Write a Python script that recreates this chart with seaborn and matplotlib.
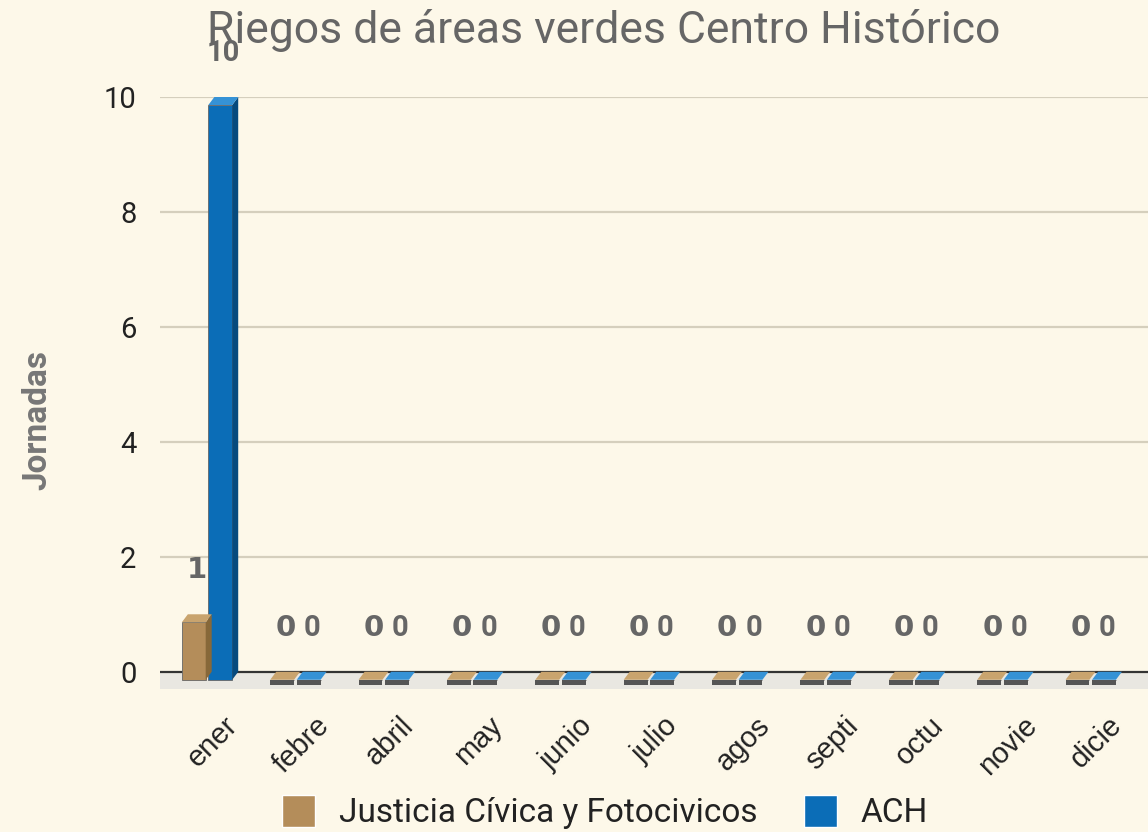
import numpy as np
import pandas as pd
import matplotlib
matplotlib.use("Agg")
import matplotlib.pyplot as plt
import matplotlib.transforms as mtransforms
from matplotlib.patches import Polygon, Rectangle
import seaborn as sns

# ---- data ----
months = ["ener", "febre", "abril", "may", "junio", "julio", "agos", "septi", "octu", "novie", "dicie"]
series_names = ["Justicia Cívica y Fotocivicos", "ACH"]
justicia = [1, 0, 0, 0, 0, 0, 0, 0, 0, 0, 0]
ach = [10, 0, 0, 0, 0, 0, 0, 0, 0, 0, 0]
yticks = [0, 2, 4, 6, 8, 10]
title = "Riegos de áreas verdes Centro Histórico"
ylabel = "Jornadas"

df = pd.DataFrame({
    "mes": months * 2,
    "serie": [series_names[0]] * len(months) + [series_names[1]] * len(months),
    "jornadas": justicia + ach,
})

BG = "#fdf8e9"
TAN = "#b48d5a"
BLUE = "#0b6db7"
side_col = {TAN: "#876839", BLUE: "#064a7e"}
top_col = {TAN: "#c9a46e", BLUE: "#3592d6"}

sns.set_theme(style="white")
plt.rcParams["font.family"] = ["Roboto", "DejaVu Sans"]

fig = plt.figure(figsize=(11.48, 8.32), dpi=100)
fig.patch.set_facecolor(BG)
W, H = 1148, 832
ax_left, ax_right = 160, 1148
ax_bot, ax_top = 689, 97
ax = fig.add_axes([ax_left / W, (H - ax_bot) / H, (ax_right - ax_left) / W, (ax_bot - ax_top) / H])
ax.set_facecolor(BG)

sns.barplot(data=df, x="mes", y="jornadas", hue="serie", palette=[TAN, BLUE],
            width=0.6, gap=0.1, ax=ax, legend=True, zorder=3, saturation=1)
bars = [p for p in ax.patches if isinstance(p, Rectangle) and p.get_width() > 0]

handles, labels = ax.get_legend_handles_labels()
ax.get_legend().remove()

ax.set_ylim(-0.3, 10)
ax.set_xlim(-0.6, 10.58)
ax.set_yticks(yticks)
ax.set_yticklabels([str(t) for t in yticks], fontsize=21, color="#222222")
ax.tick_params(axis="y", length=0, pad=17)
ax.tick_params(axis="x", length=0, pad=16)
for lab in ax.get_xticklabels():
    lab.set_rotation(45)
    lab.set_ha("center")
    lab.set_fontsize(21)
    lab.set_family(["Liberation Sans", "DejaVu Sans"])
    lab.set_color("#222222")
for s in ax.spines.values():
    s.set_visible(False)
ax.set_xlabel("")
ax.set_ylabel(ylabel, fontsize=24, fontweight="bold", color="#777777")
ax.yaxis.set_label_coords(-0.108, 0.455)

# grid lines
for t in yticks[1:]:
    ax.axhline(t, color="#d5cfbd", lw=1.6, zorder=0.5)
ax.axhspan(-0.3, 0, color="#e9e7e1", zorder=0.6, lw=0)
ax.axhline(0, color="#333333", lw=1.6, zorder=1)

# 3D-ish bars
dx, dy = 6, 8  # front face offset (pixels)
front_tr = ax.transData + mtransforms.Affine2D().translate(-dx, -dy)
ident = mtransforms.IdentityTransform()
for p in bars:
    fc = matplotlib.colors.to_hex(p.get_facecolor())
    col = TAN if fc.lower() == TAN else BLUE
    x0, w, h = p.get_x(), p.get_width(), p.get_height()
    p.set_transform(front_tr)
    p.set_edgecolor("#666666")
    p.set_linewidth(0.6)
    p.set_clip_on(False)
    (bx0, by0), = ax.transData.transform([(x0, 0)])
    (bx1, by1), = ax.transData.transform([(x0 + w, h)])
    fx0, fx1 = bx0 - dx, bx1 - dx
    fy0, fy1 = by0 - dy, by1 - dy
    ax.add_patch(Polygon([(fx0, fy1), (fx1, fy1), (bx1, by1), (bx0, by1)], closed=True,
                         facecolor=top_col[col], edgecolor="none", transform=ident,
                         zorder=3.2, clip_on=False))
    if h > 0:
        ax.add_patch(Polygon([(fx1, fy0), (fx1, fy1), (bx1, by1), (bx1, by0)], closed=True,
                             facecolor=side_col[col], edgecolor="none", transform=ident,
                             zorder=3.1, clip_on=False))
    else:
        ax.add_patch(Polygon([(fx0, fy0), (fx1, fy0), (fx1, fy0 - 5), (fx0, fy0 - 5)], closed=True,
                             facecolor="#555555", edgecolor="none", transform=ident,
                             zorder=3.1, clip_on=False))
    cx = x0 + w / 2
    if col == TAN:
        fp = dict(family=["DejaVu Sans"], fontweight="bold", fontsize=21)
    else:
        fp = dict(family=["Roboto", "DejaVu Sans"], fontweight="bold", fontsize=21)
    ax.annotate(f"{h:g}", xy=(cx, h), xytext=(-2, 44 * 0.72), textcoords="offset points",
                ha="center", va="center", color="#666666", annotation_clip=False,
                zorder=5, **fp)

fig.text(604 / W, 1 - 30 / H, title, ha="center", va="center", fontsize=32, color="#666666")

leg = fig.legend(handles, labels, loc="center", bbox_to_anchor=(605 / W, 1 - 812 / H),
                 ncol=2, frameon=False, prop=dict(family=["Roboto", "DejaVu Sans"], size=24),
                 handlelength=1.0, handleheight=1.1,
                 columnspacing=1.4, handletextpad=0.7)
for t in leg.get_texts():
    t.set_color("#222222")

fig.savefig("out.png", dpi=100, facecolor=BG)
